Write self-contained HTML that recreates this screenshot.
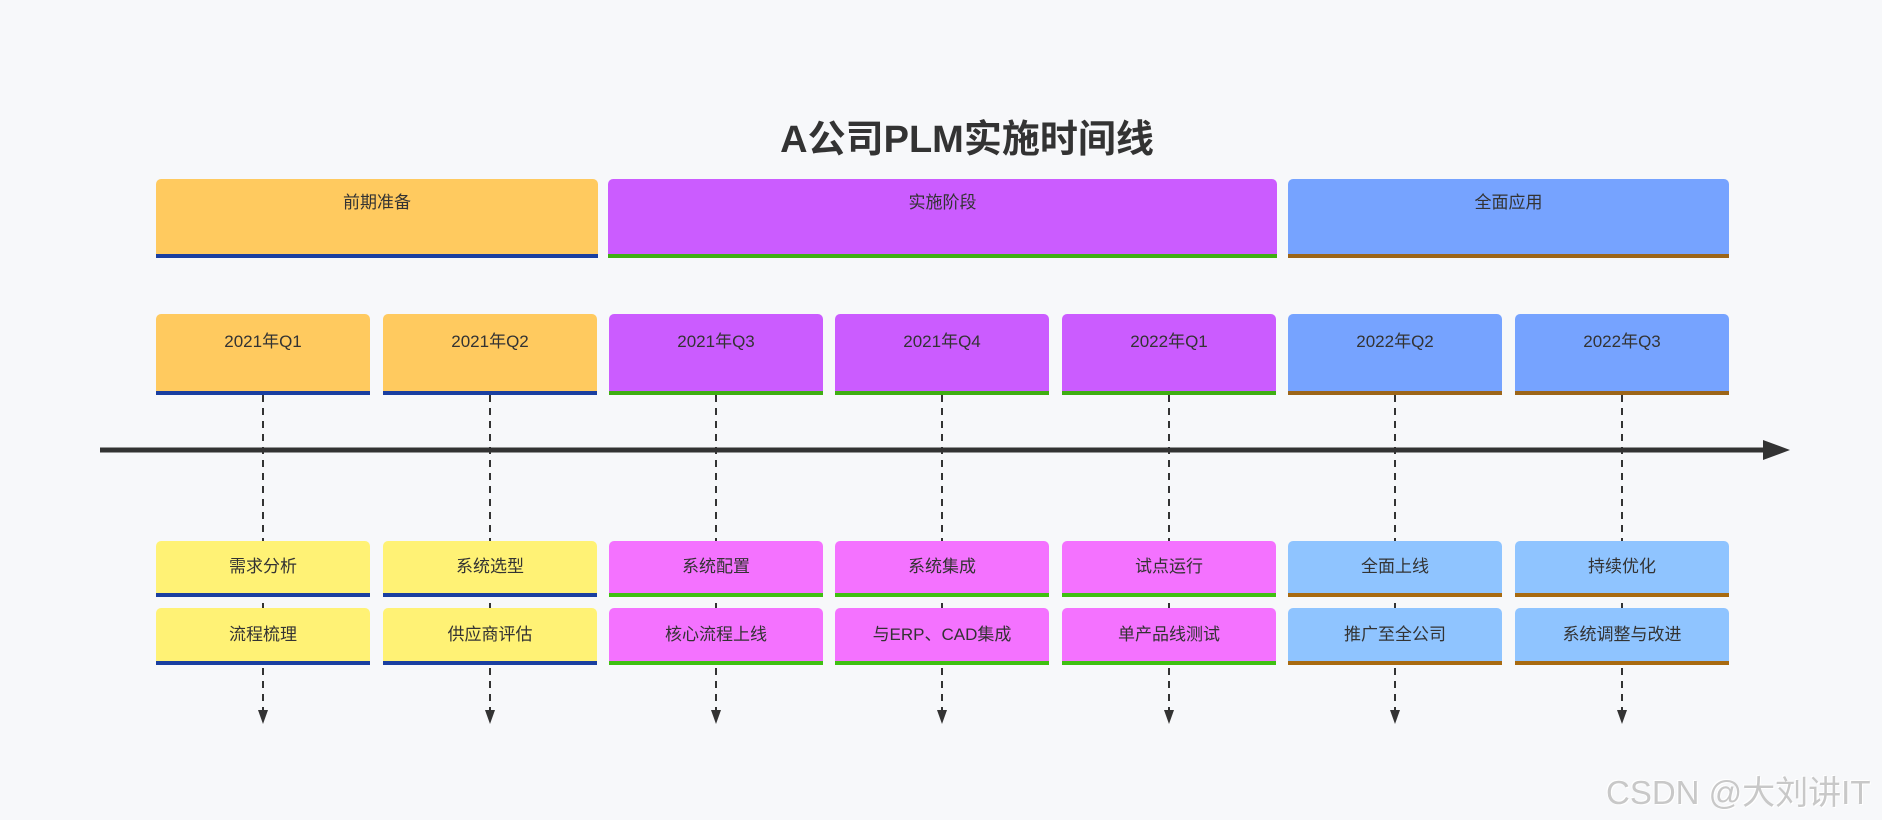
<!DOCTYPE html>
<html><head><meta charset="utf-8"><style>
body{margin:0;width:1882px;height:820px;background:#f7f8fa;position:relative;overflow:hidden;font-family:"Liberation Sans","Noto Sans CJK SC",sans-serif;color:#333}
.b{position:absolute;border-radius:5px 5px 0 0;box-sizing:border-box;text-align:center;font-size:17px}
.ph{top:179px;height:79px;line-height:48px}
.q{top:314px;height:81px;line-height:56px}
.e1{top:541px;height:56px;line-height:52px}
.e2{top:608px;height:57px;line-height:54px}
.o{background:#ffca5f;border-bottom:4px solid #1a3fa0}
.p{background:#cb5cff;border-bottom:4px solid #3fae12}
.bl{background:#76a3ff;border-bottom:4px solid #9c6518}
.y{background:#fff275;border-bottom:4px solid #1a3fa0}
.pk{background:#f472ff;border-bottom:4px solid #3fc012}
.lb{background:#8fc4ff;border-bottom:4px solid #a86a10}
</style></head><body>
<svg width="1882" height="820" style="position:absolute;left:0;top:0">
<g stroke="#333" stroke-width="2" stroke-dasharray="7,6">
<line x1="263" y1="395" x2="263" y2="712"/><line x1="490" y1="395" x2="490" y2="712"/><line x1="716" y1="395" x2="716" y2="712"/><line x1="942" y1="395" x2="942" y2="712"/><line x1="1169" y1="395" x2="1169" y2="712"/><line x1="1395" y1="395" x2="1395" y2="712"/><line x1="1622" y1="395" x2="1622" y2="712"/>
</g>
<g fill="#333">
<polygon points="258,710 268,710 263,724"/><polygon points="485,710 495,710 490,724"/><polygon points="711,710 721,710 716,724"/><polygon points="937,710 947,710 942,724"/><polygon points="1164,710 1174,710 1169,724"/><polygon points="1390,710 1400,710 1395,724"/><polygon points="1617,710 1627,710 1622,724"/>
</g>
<line x1="100" y1="450" x2="1768" y2="450" stroke="#333" stroke-width="5"/>
<polygon points="1763,440 1790,450 1763,460" fill="#333"/>
</svg>
<div style="position:absolute;top:108px;left:0;width:1934px;text-align:center;font-size:38px;font-weight:bold;color:#333">A公司PLM实施时间线</div>
<div class="b ph o" style="left:156px;width:442px">前期准备</div>
<div class="b ph p" style="left:608px;width:669px">实施阶段</div>
<div class="b ph bl" style="left:1288px;width:441px">全面应用</div>
<div class="b q o" style="left:156px;width:214px">2021年Q1</div>
<div class="b q o" style="left:383px;width:214px">2021年Q2</div>
<div class="b q p" style="left:609px;width:214px">2021年Q3</div>
<div class="b q p" style="left:835px;width:214px">2021年Q4</div>
<div class="b q p" style="left:1062px;width:214px">2022年Q1</div>
<div class="b q bl" style="left:1288px;width:214px">2022年Q2</div>
<div class="b q bl" style="left:1515px;width:214px">2022年Q3</div>
<div class="b e1 y" style="left:156px;width:214px">需求分析</div>
<div class="b e1 y" style="left:383px;width:214px">系统选型</div>
<div class="b e1 pk" style="left:609px;width:214px">系统配置</div>
<div class="b e1 pk" style="left:835px;width:214px">系统集成</div>
<div class="b e1 pk" style="left:1062px;width:214px">试点运行</div>
<div class="b e1 lb" style="left:1288px;width:214px">全面上线</div>
<div class="b e1 lb" style="left:1515px;width:214px">持续优化</div>
<div class="b e2 y" style="left:156px;width:214px">流程梳理</div>
<div class="b e2 y" style="left:383px;width:214px">供应商评估</div>
<div class="b e2 pk" style="left:609px;width:214px">核心流程上线</div>
<div class="b e2 pk" style="left:835px;width:214px">与ERP、CAD集成</div>
<div class="b e2 pk" style="left:1062px;width:214px">单产品线测试</div>
<div class="b e2 lb" style="left:1288px;width:214px">推广至全公司</div>
<div class="b e2 lb" style="left:1515px;width:214px">系统调整与改进</div>
<div style="position:absolute;left:1606px;top:766px;font-size:33px;color:#c8c8c8;text-shadow:1px 1px 0 #fff,-1px -1px 0 #fff">CSDN @大刘讲IT</div>
</body></html>
